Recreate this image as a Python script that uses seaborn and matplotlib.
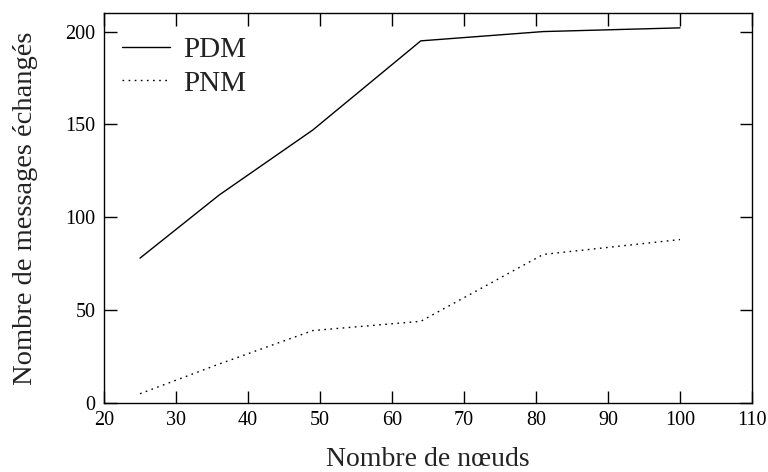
import pandas as pd
import matplotlib
matplotlib.use("Agg")
import matplotlib.pyplot as plt
import seaborn as sns

# valeurs
noeuds = [25, 36, 49, 64, 81, 100]
pdm = [78, 112, 147, 195, 200, 202]
pnm = [5, 21, 39, 44, 80, 88]

x_ticks = [20, 30, 40, 50, 60, 70, 80, 90, 100, 110]
y_ticks = [0, 50, 100, 150, 200]

df = pd.DataFrame({
    "noeuds": noeuds * 2,
    "messages": pdm + pnm,
    "proto": ["PDM"] * len(noeuds) + ["PNM"] * len(noeuds),
})

sns.set_theme(style="ticks")
plt.rcParams['font.family'] = ['Liberation Serif', 'DejaVu Serif']

fig = plt.figure(figsize=(7.68, 4.72), dpi=100)
ax = fig.add_axes([104 / 768, 1 - 403 / 472, 648 / 768, 390 / 472])

sns.lineplot(data=df[df.proto == "PDM"], x="noeuds", y="messages", ax=ax,
             color="black", linewidth=1.0, label="PDM")
sns.lineplot(data=df[df.proto == "PNM"], x="noeuds", y="messages", ax=ax,
             color="black", linewidth=1.0, linestyle=(0, (1.2, 3.2)), label="PNM")

ax.set_xlim(20, 110)
ax.set_ylim(0, 210)
ax.set_xticks(x_ticks)
ax.set_yticks(y_ticks)
ax.tick_params(direction="in", length=9, width=1, top=True, right=True,
               labelsize=14.5, pad=6, colors="black")
for s in ax.spines.values():
    s.set_linewidth(1)
    s.set_color("black")

ax.set_xlabel("Nombre de nœuds", fontsize=20, labelpad=12, color="#222222")
ax.set_ylabel("Nombre de messages échangés", fontsize=20.5, labelpad=20, color="#222222")

leg = ax.legend(loc="upper left", bbox_to_anchor=(0.028, 0.94), frameon=False,
                fontsize=21, handlelength=1.65, handletextpad=0.45,
                labelspacing=0.25, borderaxespad=0, borderpad=0)
for t in leg.get_texts():
    t.set_color("#222222")

plt.savefig("out.png", dpi=100)
plt.close()
